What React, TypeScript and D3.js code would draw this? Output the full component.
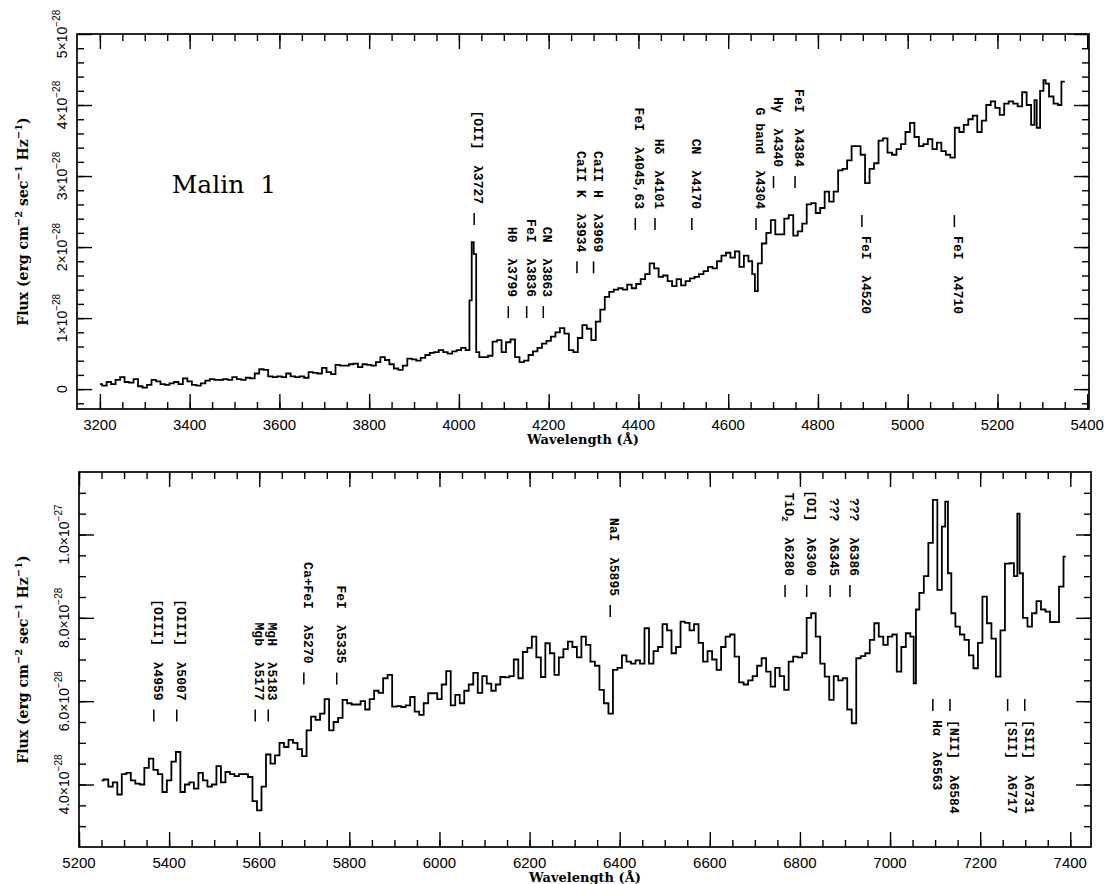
import React, { useEffect, useRef } from 'react';
import * as d3 from 'd3';

// spectrum of Malin 1, [wavelength (Å), flux in 1e-28 erg cm^-2 s^-1 Hz^-1]
const blueSpectrum: [number, number][] = [
  [3200, 0.07], [3210, 0.05], [3220, 0.10], [3230, 0.07], [3240, 0.13], [3250, 0.17], [3260, 0.10], [3270, 0.09],
  [3280, 0.14], [3290, 0.04], [3300, 0.02], [3310, 0.06], [3320, 0.13], [3330, 0.11], [3340, 0.07], [3350, 0.06],
  [3360, 0.08], [3370, 0.10], [3380, 0.07], [3390, 0.15], [3400, 0.11], [3410, 0.06], [3420, 0.05], [3430, 0.08],
  [3440, 0.12], [3450, 0.14], [3460, 0.13], [3470, 0.13], [3480, 0.14], [3490, 0.13], [3500, 0.17], [3510, 0.14],
  [3520, 0.13], [3530, 0.16], [3540, 0.15], [3550, 0.22], [3560, 0.28], [3570, 0.27], [3580, 0.18], [3590, 0.17],
  [3600, 0.18], [3610, 0.17], [3620, 0.22], [3630, 0.18], [3640, 0.17], [3650, 0.18], [3660, 0.16], [3670, 0.24],
  [3680, 0.23], [3690, 0.22], [3700, 0.30], [3710, 0.24], [3720, 0.21], [3730, 0.34], [3740, 0.33], [3750, 0.33],
  [3760, 0.35], [3770, 0.36], [3780, 0.31], [3790, 0.35], [3800, 0.34], [3810, 0.33], [3820, 0.38], [3830, 0.45],
  [3840, 0.41], [3850, 0.35], [3860, 0.29], [3870, 0.27], [3880, 0.33], [3890, 0.43], [3900, 0.42], [3910, 0.40],
  [3920, 0.44], [3930, 0.48], [3940, 0.51], [3950, 0.52], [3960, 0.55], [3970, 0.52], [3980, 0.50], [3990, 0.53],
  [4000, 0.55], [4010, 0.58], [4020, 0.55], [4027, 1.25], [4030, 2.07], [4036, 1.90], [4041, 0.52], [4050, 0.45],
  [4060, 0.45], [4070, 0.47], [4080, 0.67], [4090, 0.69], [4100, 0.52], [4110, 0.66], [4120, 0.70], [4130, 0.45],
  [4140, 0.38], [4150, 0.40], [4160, 0.48], [4170, 0.53], [4180, 0.58], [4190, 0.64], [4200, 0.68], [4210, 0.74],
  [4220, 0.80], [4230, 0.86], [4240, 0.78], [4250, 0.55], [4260, 0.52], [4270, 0.72], [4280, 0.90], [4290, 0.85],
  [4300, 0.69], [4310, 0.95], [4320, 1.12], [4330, 1.30], [4340, 1.37], [4350, 1.40], [4360, 1.42], [4370, 1.40],
  [4380, 1.47], [4390, 1.42], [4400, 1.48], [4410, 1.55], [4420, 1.62], [4430, 1.77], [4440, 1.70], [4450, 1.58],
  [4460, 1.60], [4470, 1.52], [4480, 1.45], [4490, 1.55], [4500, 1.46], [4510, 1.52], [4520, 1.56], [4530, 1.58],
  [4540, 1.62], [4550, 1.66], [4560, 1.72], [4570, 1.70], [4580, 1.80], [4590, 1.88], [4600, 1.92], [4610, 1.85],
  [4620, 1.94], [4630, 1.72], [4640, 1.88], [4650, 1.80], [4657, 1.62], [4662, 1.38], [4670, 1.77], [4680, 2.05],
  [4690, 2.20], [4700, 2.38], [4710, 2.18], [4720, 2.18], [4730, 2.40], [4740, 2.45], [4750, 2.16], [4760, 2.22],
  [4770, 2.33], [4780, 2.60], [4790, 2.62], [4800, 2.48], [4810, 2.55], [4820, 2.78], [4830, 2.64], [4840, 2.78],
  [4850, 3.08], [4860, 3.10], [4870, 3.22], [4880, 3.42], [4890, 3.42], [4900, 3.30], [4910, 2.90], [4920, 3.10],
  [4930, 3.18], [4940, 3.50], [4950, 3.53], [4960, 3.33], [4970, 3.30], [4980, 3.38], [4990, 3.45], [5000, 3.62],
  [5010, 3.75], [5020, 3.55], [5030, 3.42], [5040, 3.45], [5050, 3.52], [5060, 3.38], [5070, 3.47], [5080, 3.35],
  [5090, 3.30], [5100, 3.26], [5110, 3.68], [5120, 3.62], [5130, 3.72], [5140, 3.80], [5150, 3.85], [5160, 3.62],
  [5170, 3.78], [5180, 4.00], [5190, 4.05], [5200, 3.96], [5210, 3.86], [5220, 4.02], [5230, 4.05], [5240, 4.02],
  [5250, 3.98], [5260, 4.18], [5270, 4.00], [5280, 3.72], [5285, 4.07], [5290, 3.68], [5300, 4.20], [5305, 4.35],
  [5310, 4.30], [5320, 4.12], [5330, 4.02], [5340, 4.00], [5345, 4.33], [5350, 4.33],
];

const redSpectrum: [number, number][] = [
  [5250, 4.10], [5260, 4.12], [5270, 3.95], [5280, 4.05], [5290, 3.76], [5300, 4.25], [5310, 4.28], [5320, 4.10],
  [5330, 4.02], [5340, 4.00], [5350, 4.40], [5360, 4.62], [5370, 4.35], [5380, 4.25], [5390, 3.82], [5400, 4.10],
  [5410, 4.55], [5420, 4.78], [5430, 3.82], [5440, 4.00], [5450, 4.05], [5460, 3.90], [5470, 4.28], [5480, 4.10],
  [5490, 3.95], [5500, 4.00], [5510, 4.44], [5520, 4.05], [5530, 4.30], [5540, 4.25], [5550, 4.20], [5560, 4.25],
  [5570, 4.25], [5580, 4.18], [5590, 3.60], [5600, 3.38], [5610, 3.95], [5620, 4.72], [5630, 4.50], [5640, 4.70],
  [5650, 5.00], [5660, 4.90], [5670, 5.07], [5680, 5.00], [5690, 4.85], [5700, 4.68], [5710, 5.30], [5720, 5.63],
  [5730, 5.55], [5740, 5.70], [5750, 6.05], [5760, 5.30], [5770, 5.50], [5780, 5.60], [5790, 6.03], [5800, 5.95],
  [5810, 5.92], [5820, 5.92], [5830, 6.00], [5840, 5.80], [5850, 6.05], [5860, 6.25], [5870, 6.20], [5880, 6.55],
  [5890, 6.63], [5900, 5.87], [5910, 5.88], [5920, 5.86], [5930, 5.90], [5940, 6.10], [5950, 5.75], [5960, 5.67],
  [5970, 5.95], [5980, 6.19], [5990, 6.19], [6000, 6.05], [6010, 6.40], [6020, 6.72], [6030, 5.90], [6040, 6.15],
  [6050, 5.95], [6060, 6.25], [6070, 6.40], [6080, 6.68], [6090, 6.20], [6100, 6.60], [6110, 6.42], [6120, 6.25],
  [6130, 6.40], [6140, 6.58], [6150, 6.57], [6160, 6.60], [6170, 7.00], [6180, 6.55], [6190, 7.18], [6200, 7.28],
  [6210, 7.55], [6220, 7.05], [6230, 6.58], [6240, 7.39], [6250, 7.15], [6260, 6.63], [6270, 7.05], [6280, 7.25],
  [6290, 7.43], [6300, 7.30], [6310, 7.05], [6320, 7.55], [6330, 7.35], [6340, 6.95], [6350, 6.85], [6360, 6.27],
  [6370, 5.95], [6380, 5.70], [6390, 6.75], [6400, 6.80], [6410, 7.10], [6420, 6.95], [6430, 6.90], [6440, 6.98],
  [6450, 6.90], [6460, 7.75], [6470, 6.90], [6480, 7.20], [6490, 7.30], [6500, 7.85], [6510, 7.70], [6520, 7.15],
  [6530, 7.30], [6540, 7.91], [6550, 7.88], [6560, 7.70], [6570, 7.85], [6580, 7.40], [6590, 6.95], [6600, 7.20],
  [6610, 7.00], [6620, 6.75], [6630, 7.30], [6640, 7.55], [6650, 7.60], [6660, 7.07], [6670, 6.45], [6680, 6.40],
  [6690, 6.50], [6700, 6.60], [6710, 6.85], [6720, 7.03], [6730, 6.71], [6740, 6.35], [6750, 6.80], [6760, 6.60],
  [6770, 6.27], [6780, 6.95], [6790, 7.07], [6800, 7.05], [6810, 7.15], [6820, 8.00], [6830, 8.11], [6840, 7.55],
  [6850, 6.90], [6860, 6.59], [6870, 6.03], [6880, 6.60], [6890, 6.50], [6900, 6.55], [6910, 5.80], [6920, 5.47],
  [6930, 7.03], [6940, 7.08], [6950, 7.15], [6960, 7.47], [6970, 7.87], [6980, 7.55], [6990, 7.35], [7000, 7.55],
  [7010, 7.60], [7020, 6.71], [7030, 7.30], [7040, 7.63], [7050, 7.55], [7055, 6.43], [7060, 8.20], [7070, 8.60],
  [7080, 9.00], [7090, 9.80], [7100, 10.83], [7110, 8.67], [7120, 10.19], [7125, 10.79], [7132, 9.07], [7140, 8.11],
  [7150, 7.79], [7160, 7.60], [7170, 7.47], [7180, 7.10], [7190, 6.79], [7200, 7.40], [7210, 8.51], [7220, 7.87],
  [7230, 7.50], [7240, 6.59], [7250, 7.70], [7260, 9.30], [7270, 9.31], [7280, 9.00], [7285, 10.50], [7290, 9.07],
  [7300, 8.00], [7310, 7.79], [7320, 8.11], [7330, 8.40], [7340, 8.20], [7350, 8.15], [7360, 7.90], [7370, 7.90],
  [7380, 8.75], [7390, 9.47],
];

// line identifications: text, observed wavelength, flux level of the marker end
type LineId = { text: string; wave: number; flux: number; side: 'above' | 'below' };

const blueLines: LineId[] = [
  { text: '[OII]  λ3727', wave: 4034, flux: 2.31, side: 'above' },
  { text: 'Hθ  λ3799', wave: 4110, flux: 1.0, side: 'above' },
  { text: 'FeI  λ3836', wave: 4151, flux: 1.0, side: 'above' },
  { text: 'CN  λ3863', wave: 4188, flux: 1.0, side: 'above' },
  { text: 'CaII K  λ3934', wave: 4263, flux: 1.63, side: 'above' },
  { text: 'CaII H  λ3969', wave: 4300, flux: 1.63, side: 'above' },
  { text: 'FeI  λ4045,63', wave: 4393, flux: 2.24, side: 'above' },
  { text: 'Hδ  λ4101', wave: 4437, flux: 2.24, side: 'above' },
  { text: 'CN  λ4170', wave: 4519, flux: 2.24, side: 'above' },
  { text: 'G band  λ4304', wave: 4662, flux: 2.24, side: 'above' },
  { text: 'Hγ  λ4340', wave: 4701, flux: 2.83, side: 'above' },
  { text: 'FeI  λ4384', wave: 4749, flux: 2.83, side: 'above' },
  { text: 'FeI  λ4520', wave: 4898, flux: 2.45, side: 'below' },
  { text: 'FeI  λ4710', wave: 5104, flux: 2.45, side: 'below' },
];

const redLines: LineId[] = [
  { text: '[OIII]  λ4959', wave: 5366, flux: 5.51, side: 'above' },
  { text: '[OIII]  λ5007', wave: 5417, flux: 5.51, side: 'above' },
  { text: 'Mgb  λ5177', wave: 5591, flux: 5.51, side: 'above' },
  { text: 'MgH  λ5183', wave: 5620, flux: 5.51, side: 'above' },
  { text: 'Ca+FeI  λ5270', wave: 5699, flux: 6.40, side: 'above' },
  { text: 'FeI  λ5335', wave: 5772, flux: 6.40, side: 'above' },
  { text: 'NaI  λ5895', wave: 6379, flux: 8.02, side: 'above' },
  { text: 'TiO{2}  λ6280', wave: 6767, flux: 8.50, side: 'above' },
  { text: '[OI]  λ6300', wave: 6815, flux: 8.50, side: 'above' },
  { text: '???  λ6345', wave: 6867, flux: 8.50, side: 'above' },
  { text: '???  λ6386', wave: 6911, flux: 8.50, side: 'above' },
  { text: 'Hα  λ6563', wave: 7095, flux: 6.05, side: 'below' },
  { text: '[NII]  λ6584', wave: 7133, flux: 6.05, side: 'below' },
  { text: '[SII]  λ6717', wave: 7261, flux: 6.05, side: 'below' },
  { text: '[SII]  λ6731', wave: 7299, flux: 6.05, side: 'below' },
];

const blueXTicks = [3200, 3400, 3600, 3800, 4000, 4200, 4400, 4600, 4800, 5000, 5200, 5400];
const redXTicks = [5200, 5400, 5600, 5800, 6000, 6200, 6400, 6600, 6800, 7000, 7200, 7400];
const blueYTicks = [0, 1, 2, 3, 4, 5];
const blueYLabels: [string, string][] = [['0', ''], ['1×10', '−28'], ['2×10', '−28'], ['3×10', '−28'], ['4×10', '−28'], ['5×10', '−28']];
const redYTicks = [4, 6, 8, 10];
const redYLabels: [string, string][] = [['4.0×10', '−28'], ['6.0×10', '−28'], ['8.0×10', '−28'], ['1.0×10', '−27']];

const objectName = 'Malin  1';
const xTitle = 'Wavelength (Å)';
const yTitle: [string, string][] = [['Flux (erg cm', '−2'], [' sec', '−1'], [' Hz', '−1'], [')', '']];

const MONO = '"Liberation Mono", "DejaVu Sans Mono", monospace';
const SERIF = '"DejaVu Serif", "Liberation Serif", serif';
const SANS = '"Liberation Sans", Arial, sans-serif';

const panels = [
  {
    frame: { left: 77, top: 34, right: 1089, bottom: 409 },
    xDomain: [3149, 5404], yDomain: [-0.28, 5],
    spectrum: blueSpectrum, lines: blueLines,
    xMajor: blueXTicks, xMinor: d3.range(3200, 5401, 50),
    yMajor: blueYTicks, yMinor: d3.range(-0.2, 5, 0.2),
    yLabels: blueYLabels,
    name: { text: objectName, wave: 3360, flux: 2.76 },
  },
  {
    frame: { left: 79, top: 472, right: 1091, bottom: 847 },
    xDomain: [5200, 7446], yDomain: [2.5, 11.5],
    spectrum: redSpectrum, lines: redLines,
    xMajor: redXTicks, xMinor: d3.range(5200, 7446, 50),
    yMajor: redYTicks, yMinor: d3.range(3, 11.5, 0.5),
    yLabels: redYLabels,
    name: null,
  },
];

// write a string with {sub} parts into a text element
const richText = (t, str) => {
  let shift = 0;
  str.split(/(\{[^}]*\})/).filter(s => s.length).forEach(part => {
    if (part.startsWith('{')) {
      t.append('tspan').attr('dy', 3 - shift).attr('font-size', 9).text(part.slice(1, -1));
      shift = 3;
    } else {
      t.append('tspan').attr('dy', -shift).text(part);
      shift = 0;
    }
  });
};

const drawPanel = (svg, p) => {
  const { left, top, right, bottom } = p.frame;
  const x = d3.scaleLinear().domain(p.xDomain).range([left, right]);
  const y = d3.scaleLinear().domain(p.yDomain).range([bottom, top]);
  const g = svg.append('g');

  // inward ticks on all four sides
  const ticks = (axis, tx, ty) => {
    g.append('g')
      .attr('transform', `translate(${tx},${ty})`)
      .call(axis.tickFormat(() => '').tickSizeOuter(0))
      .call(s => s.select('.domain').remove())
      .call(s => s.selectAll('line').attr('stroke', '#000').attr('stroke-width', 1.4));
  };
  ticks(d3.axisBottom(x).tickValues(p.xMajor).tickSize(-15), 0, bottom);
  ticks(d3.axisBottom(x).tickValues(p.xMinor).tickSize(-7), 0, bottom);
  ticks(d3.axisTop(x).tickValues(p.xMajor).tickSize(-15), 0, top);
  ticks(d3.axisTop(x).tickValues(p.xMinor).tickSize(-7), 0, top);
  ticks(d3.axisLeft(y).tickValues(p.yMajor).tickSize(-15), left, 0);
  ticks(d3.axisLeft(y).tickValues(p.yMinor).tickSize(-7), left, 0);
  ticks(d3.axisRight(y).tickValues(p.yMajor).tickSize(-15), right, 0);
  ticks(d3.axisRight(y).tickValues(p.yMinor).tickSize(-7), right, 0);

  g.append('rect')
    .attr('x', left).attr('y', top)
    .attr('width', right - left).attr('height', bottom - top)
    .attr('fill', 'none').attr('stroke', '#000').attr('stroke-width', 1.7);

  // x tick labels
  g.selectAll('.xlab').data(p.xMajor).enter().append('text')
    .attr('x', d => x(d)).attr('y', bottom + 21)
    .attr('text-anchor', 'middle')
    .attr('font-family', SANS).attr('font-size', 15)
    .text(d => d);

  // y tick labels, rotated
  p.yMajor.forEach((v, i) => {
    const [main, sup] = p.yLabels[i];
    const t = g.append('text')
      .attr('transform', `translate(${left - 10},${y(v)}) rotate(-90)`)
      .attr('text-anchor', 'middle')
      .attr('font-family', SANS).attr('font-size', 14);
    t.append('tspan').text(main);
    if (sup) t.append('tspan').attr('dy', -7).attr('font-size', 10).text(sup);
  });

  // axis titles
  g.append('text')
    .attr('x', (left + right) / 2).attr('y', bottom + 35)
    .attr('text-anchor', 'middle')
    .attr('font-family', SERIF).attr('font-weight', 'bold').attr('font-size', 13)
    .text(xTitle);

  const yt = g.append('text')
    .attr('transform', `translate(28,${(top + bottom) / 2}) rotate(-90)`)
    .attr('text-anchor', 'middle')
    .attr('font-family', SERIF).attr('font-weight', 'bold').attr('font-size', 14)
    .style('white-space', 'pre');
  yTitle.forEach(([main, sup], i) => {
    yt.append('tspan').attr('dy', i === 0 ? 0 : 6).text(main);
    if (sup) yt.append('tspan').attr('dy', -6).attr('font-size', 10).text(sup);
  });

  // spectrum
  const line = d3.line<[number, number]>()
    .x(d => x(d[0]))
    .y(d => y(d[1]))
    .curve(d3.curveStep);
  g.append('path')
    .datum(p.spectrum)
    .attr('d', line)
    .attr('fill', 'none')
    .attr('stroke', '#000')
    .attr('stroke-width', 1.8);

  // line identifications
  const markLen = 12;
  const gap = 9;
  p.lines.forEach(l => {
    const px = x(l.wave);
    const py = y(l.flux);
    const above = l.side === 'above';
    g.append('line')
      .attr('x1', px).attr('x2', px)
      .attr('y1', py).attr('y2', above ? py - markLen : py + markLen)
      .attr('stroke', '#000').attr('stroke-width', 1.5);
    const ty = above ? py - markLen - gap : py + markLen + gap;
    const t = g.append('text')
      .attr('transform', `translate(${px},${ty}) rotate(90)`)
      .attr('text-anchor', above ? 'end' : 'start')
      .attr('dy', '0.35em')
      .attr('font-family', MONO).attr('font-weight', 'bold').attr('font-size', 13)
      .style('white-space', 'pre');
    richText(t, l.text);
  });

  if (p.name) {
    g.append('text')
      .attr('x', x(p.name.wave)).attr('y', y(p.name.flux))
      .attr('font-family', SERIF).attr('font-size', 25)
      .style('white-space', 'pre')
      .text(p.name.text);
  }
};

export default function App() {
  const ref = useRef<SVGSVGElement>(null);

  useEffect(() => {
    const svg = d3.select(ref.current);
    svg.selectAll('*').remove();
    panels.forEach(p => drawPanel(svg, p));
  }, []);

  return (
    <svg
      ref={ref}
      width={1109}
      height={884}
      style={{ position: 'absolute', left: 0, top: 0, background: '#fff' }}
    />
  );
}
